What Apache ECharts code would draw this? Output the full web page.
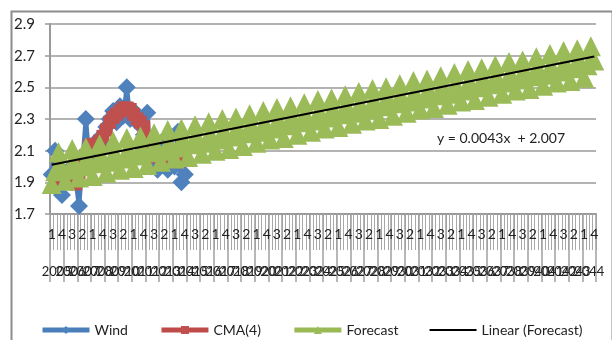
<!DOCTYPE html>
<html>
<head>
<meta charset="utf-8">
<script src="https://cdn.jsdelivr.net/npm/echarts@6/dist/echarts.min.js"></script>
<style>
  html, body { margin: 0; padding: 0; background: #fff; }
  #chart { width: 612px; height: 340px; }
</style>
</head>
<body>
<div id="chart"></div>
<script>
// Quarterly wind index, its centred moving average and the seasonal forecast
const years = [2005, 2006, 2007, 2008, 2009, 2010, 2011, 2012, 2013, 2014,
  2015, 2016, 2017, 2018, 2019, 2020, 2021, 2022, 2023, 2024,
  2025, 2026, 2027, 2028, 2029, 2030, 2031, 2032, 2033, 2034,
  2035, 2036, 2037, 2038, 2039, 2040, 2041, 2042, 2043, 2044];
const quarters = ['1', '2', '3', '4'];

const wind = [1.95, 2.10, 1.88, 1.82, 1.92, 1.98, 1.90, 1.92, 1.75, 2.02,
  2.30, 2.05, 2.10, 2.15, 2.18, 2.12, 2.25, 2.30, 2.35, 2.28,
  2.38, 2.32, 2.50, 2.30, 2.35, 2.28, 2.30, 2.20, 2.34, 2.00,
  2.05, 1.98, 2.15, 2.10, 1.98, 2.05, 2.00, 2.22, 1.90, 1.95];

const cma4 = [null, null, 1.93, 1.92, 1.90, 1.92, 1.91, 1.89, 1.95, 2.01,
  2.07, 2.13, 2.14, 2.13, 2.16, 2.19, 2.23, 2.28, 2.31, 2.33,
  2.35, 2.37, 2.37, 2.36, 2.33, 2.30, 2.28, 2.25, 2.18, 2.12,
  2.07, 2.06, 2.06, 2.06, 2.05, 2.05, 2.05, 2.03, null, null];

const forecast = [
  1.89, 1.97, 2.09, 1.99,  1.91, 1.98, 2.11, 2.01,  1.93, 2.00, 2.12, 2.03,  1.94, 2.02, 2.14, 2.05,
  1.96, 2.03, 2.16, 2.06,  1.98, 2.05, 2.18, 2.08,  1.99, 2.07, 2.19, 2.10,  2.01, 2.09, 2.21, 2.11,
  2.03, 2.10, 2.23, 2.13,  2.05, 2.12, 2.24, 2.15,  2.06, 2.14, 2.26, 2.17,  2.08, 2.15, 2.28, 2.18,
  2.10, 2.17, 2.30, 2.20,  2.11, 2.19, 2.31, 2.22,  2.13, 2.21, 2.33, 2.24,  2.15, 2.22, 2.35, 2.25,
  2.17, 2.24, 2.37, 2.27,  2.18, 2.26, 2.38, 2.29,  2.20, 2.28, 2.40, 2.30,  2.22, 2.29, 2.42, 2.32,
  2.24, 2.31, 2.43, 2.34,  2.25, 2.33, 2.45, 2.36,  2.27, 2.34, 2.47, 2.37,  2.29, 2.36, 2.49, 2.39,
  2.30, 2.38, 2.50, 2.41,  2.32, 2.40, 2.52, 2.42,  2.34, 2.41, 2.54, 2.44,  2.36, 2.43, 2.55, 2.46,
  2.37, 2.45, 2.57, 2.48,  2.39, 2.46, 2.59, 2.49,  2.41, 2.48, 2.61, 2.51,  2.42, 2.50, 2.62, 2.53,
  2.44, 2.52, 2.64, 2.54,  2.46, 2.53, 2.66, 2.56,  2.48, 2.55, 2.67, 2.58,  2.49, 2.57, 2.69, 2.60,
  2.51, 2.58, 2.71, 2.61,  2.53, 2.60, 2.73, 2.63,  2.54, 2.62, 2.74, 2.65,  2.56, 2.64, 2.76, 2.67
];

// Linear trend fitted to the forecast
const trendSlope = 0.0043;
const trendIntercept = 2.007;

const yTicks = { min: 1.7, max: 2.9, step: 0.2 };

// Two-level category axis: quarter inside each year
const quarterCats = [];
years.forEach(() => quarters.forEach(q => quarterCats.push(q)));
const yearCats = years.map(String);

const n = quarterCats.length;
const trendLine = [
  [0, trendIntercept + trendSlope * 1],
  [n - 1, trendIntercept + trendSlope * n]
];

const FONT = 'Lato, "Liberation Sans", sans-serif';
const GRAY = '#9a9a9a';

const chart = echarts.init(document.getElementById('chart'), null, { renderer: 'canvas' });
chart.setOption({
  animation: false,
  backgroundColor: '#ffffff',
  textStyle: { fontFamily: FONT },
  grid: { left: 50, right: 16, top: 24, bottom: 126 },
  xAxis: [
    {
      type: 'category',
      data: quarterCats,
      boundaryGap: true,
      axisLine: { show: true, lineStyle: { color: GRAY, width: 2 } },
      axisTick: { show: true, interval: 0, length: 36, lineStyle: { color: '#a8a8a8', width: 1 } },
      axisLabel: { interval: 2, margin: 13, color: '#222', fontSize: 14, fontFamily: FONT },
      splitLine: { show: false }
    },
    {
      type: 'category',
      data: yearCats,
      position: 'bottom',
      boundaryGap: true,
      axisLine: { show: false },
      axisTick: { show: true, interval: 0, length: 68, lineStyle: { color: '#a0a0a0', width: 1.5 } },
      axisLabel: { interval: 0, margin: 51, color: '#222', fontSize: 13, fontFamily: FONT },
      splitLine: { show: false }
    }
  ],
  yAxis: {
    type: 'value',
    min: yTicks.min,
    max: yTicks.max,
    interval: yTicks.step,
    axisLine: { show: true, lineStyle: { color: GRAY, width: 2 } },
    axisTick: { show: true, length: 5, lineStyle: { color: GRAY, width: 1.5 } },
    axisLabel: { margin: 15, color: '#222', fontSize: 15, fontFamily: FONT,
      formatter: v => v.toFixed(1) },
    splitLine: { show: true, lineStyle: { color: GRAY, width: 1.5 } }
  },
  legend: {
    left: 35,
    top: 318,
    itemWidth: 47,
    itemHeight: 10,
    itemGap: 31,
    textStyle: { fontSize: 14, color: '#222', fontFamily: FONT },
    data: [
      { name: 'Wind', lineStyle: { width: 5 } },
      { name: 'CMA(4)', lineStyle: { width: 5 } },
      { name: 'Forecast', lineStyle: { width: 5 } },
      { name: 'Linear (Forecast)', icon: 'path://M0,0H47V2H0Z',
        itemStyle: { color: '#000' } }
    ]
  },
  series: [
    {
      name: 'Wind',
      type: 'line',
      z: 2,
      data: wind,
      symbol: 'diamond',
      symbolSize: 18,
      showAllSymbol: true,
      color: '#4F81BD',
      lineStyle: { color: '#4A7EBB', width: 4.5 },
      itemStyle: { color: '#4F81BD' }
    },
    {
      name: 'CMA(4)',
      type: 'line',
      z: 3,
      data: cma4,
      symbol: 'rect',
      symbolSize: 13,
      showAllSymbol: true,
      color: '#C0504D',
      lineStyle: { color: '#BE4B48', width: 4.5 },
      itemStyle: { color: '#C0504D' }
    },
    {
      name: 'Forecast',
      type: 'line',
      z: 4,
      data: forecast,
      symbol: 'triangle',
      symbolSize: 20,
      showAllSymbol: true,
      color: '#9BBB59',
      lineStyle: { color: '#98B954', width: 4.5 },
      itemStyle: { color: '#9BBB59' }
    },
    {
      name: 'Linear (Forecast)',
      type: 'line',
      z: 5,
      data: trendLine,
      symbol: 'none',
      color: '#000',
      lineStyle: { color: '#000', width: 2 }
    }
  ],
  graphic: [
    {
      type: 'rect',
      left: 9, top: 9,
      shape: { width: 601, height: 340 },
      style: { fill: 'none', stroke: '#8c8c8c', lineWidth: 2 },
      silent: true
    },
    {
      type: 'text',
      left: 437, top: 131,
      style: {
        text: 'y = ' + trendSlope + 'x  + ' + trendIntercept,
        font: '14px ' + FONT,
        fill: '#222'
      }
    }
  ]
});
</script>
</body>
</html>
